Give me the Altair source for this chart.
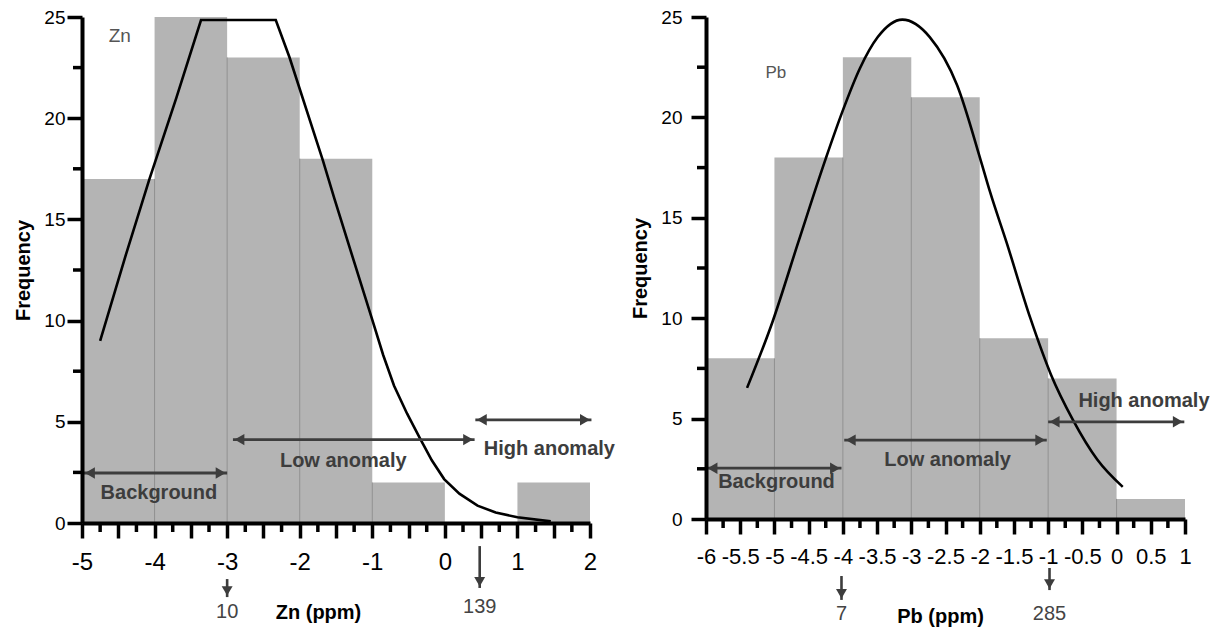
import altair as alt
import pandas as pd

FONT = "Liberation Sans, Arial, sans-serif"
NARROW = "Liberation Sans Narrow, Arial Narrow, Liberation Sans, sans-serif"
BAR = "#b4b4b4"
SEP = "#8e8e8e"
ANN = "#3d3d3d"

# ---------------- Zn data ----------------
zn_bin_start = [-5, -4, -3, -2, -1, 0, 1]
zn_bin_end = [-4, -3, -2, -1, 0, 1, 2]
zn_freq = [17, 25, 23, 18, 2, 0, 2]

zn_curve_x = [-4.75, -4.4, -4.07, -3.7, -3.36, -2.33, -2.14, -1.68, -1.52, -1.25,
              -0.99, -0.85, -0.70, -0.52, -0.35, -0.18, -0.01, 0.2, 0.45, 0.7, 1.0, 1.46]
zn_curve_y = [9.0, 13.2, 17.0, 21.0, 24.85, 24.85, 23.0, 17.9, 16.0, 12.9,
              9.92, 8.3, 6.78, 5.4, 4.23, 3.1, 2.17, 1.45, 0.86, 0.52, 0.28, 0.08]

zn_major_ticks = [-5, -4.5, -4, -3.5, -3, -2.5, -2, -1.5, -1, -0.5, 0, 0.5, 1, 1.5, 2]
zn_minor_ticks = [-4.75, -4.25, -3.75, -3.25, -2.75, -2.25, -1.75, -1.25, -0.75, -0.25,
                  0.25, 0.75, 1.25, 1.75]

zn_zone_text = ["Background", "Low anomaly", "High anomaly"]
zn_zone_x1 = [-4.98, -2.92, 0.42]
zn_zone_x2 = [-3.0, 0.41, 2.02]
zn_zone_y = [2.47, 4.12, 5.1]
zn_zone_text_x = [-3.94, -1.4, 1.44]
zn_zone_text_y = [1.5, 3.08, 3.66]

zn_cut_x = [-3.0, 0.48]
zn_cut_text = ["10", "139"]
zn_cut_top = [-2.77, -1.14]
zn_cut_tip = [-3.66, -3.21]
zn_cut_text_y = [-4.4, -4.15]

# ---------------- Pb data ----------------
pb_bin_start = [-6, -5, -4, -3, -2, -1, 0]
pb_bin_end = [-5, -4, -3, -2, -1, 0, 1]
pb_freq = [8, 18, 23, 21, 9, 7, 1]

pb_curve_x = [-5.40, -5.03, -4.65, -4.25, -4.0, -3.75, -3.49, -3.13, -2.73, -2.33,
              -1.98, -1.85, -1.61, -1.26, -0.96, -0.64, -0.28, 0.09]
pb_curve_y = [6.53, 9.8, 13.8, 17.95, 20.35, 22.45, 24.0, 24.87, 24.0, 21.6,
              17.8, 16.3, 13.8, 10.0, 7.2, 4.95, 2.95, 1.6]

pb_major_ticks = [-6, -5.5, -5, -4.5, -4, -3.5, -3, -2.5, -2, -1.5, -1, -0.5, 0, 0.5, 1]
pb_minor_ticks = [-5.75, -5.25, -4.75, -4.25, -3.75, -3.25, -2.75, -2.25, -1.75, -1.25,
                  -0.75, -0.25, 0.25, 0.75]

pb_zone_text = ["Background", "Low anomaly", "High anomaly"]
pb_zone_x1 = [-6.0, -3.98, -1.0]
pb_zone_x2 = [-4.02, -1.02, 0.99]
pb_zone_y = [2.53, 3.93, 4.84]
pb_zone_text_x = [-4.97, -2.47, 0.4]
pb_zone_text_y = [1.83, 2.92, 5.9]

pb_cut_x = [-4.02, -0.98]
pb_cut_text = ["7", "285"]
pb_cut_top = [-2.84, -2.44]
pb_cut_tip = [-4.03, -3.54]
pb_cut_text_y = [-4.73, -4.73]

y_major_ticks = [0, 5, 10, 15, 20, 25]
y_minor_ticks = [2.5, 7.5, 12.5, 17.5, 22.5]

MAJOR = 15
MINOR = 8
TW = 3.5
DW = 4


def panel(name, bin_start, bin_end, freq, cx, cy, interp, xdom, major_ticks, minor_ticks,
          half_labels, zone_text, zx1, zx2, zy, ztx, zty, cut_x, cut_text, cut_top, cut_tip,
          cut_ty, elem_x, elem_y, elem_size, width, height, xlab_size, xlab_pad, ylab_pad,
          xtitle_x, xtitle_y):
    xs = alt.Scale(domain=xdom, nice=False, zero=False)
    ys = alt.Scale(domain=[0, 25], nice=False, zero=False)

    if half_labels:
        lab_expr = "'' + datum.value"
    else:
        lab_expr = "abs(datum.value - round(datum.value)) < 0.001 ? ('' + datum.value) : ''"

    xaxis = alt.Axis(
        values=major_ticks, title=f"{name} (ppm)", titleFont=FONT, titleFontSize=20,
        titleFontWeight="bold", titleColor="black", titleX=xtitle_x, titleY=xtitle_y,
        titleBaseline="middle", titleAnchor="start", titleAlign="center",
        labelExpr=lab_expr,
        labelFont=NARROW, labelFontSize=xlab_size, labelColor="black",
        labelPadding=xlab_pad, labelOverlap=False, labelFlush=False, labelBound=False,
        tickSize=MAJOR, tickWidth=TW, tickColor="black",
        domainWidth=DW, domainColor="black", grid=False, zindex=2,
    )
    yaxis = alt.Axis(
        values=y_major_ticks, title="Frequency", titleFont=FONT, titleFontSize=20,
        titleFontWeight="bold", titleColor="black", titlePadding=10,
        labelFont=FONT, labelFontSize=19, labelColor="black", labelPadding=ylab_pad,
        labelOverlap=False, labelFlush=False,
        tickSize=MAJOR, tickWidth=TW, tickColor="black",
        domainWidth=DW, domainColor="black", grid=False, zindex=2,
    )

    def X(f):
        return alt.X(f, scale=xs, axis=xaxis, title=f"{name} (ppm)")

    def Y(f):
        return alt.Y(f, scale=ys, axis=yaxis, title="Frequency")

    bars_df = pd.DataFrame({"start": bin_start, "end": bin_end, "freq": freq})
    bars = alt.Chart(bars_df).mark_rect(color=BAR).encode(
        x=X("start:Q"), x2="end:Q", y=Y("freq:Q"), y2=alt.datum(0),
    )

    sep_x, sep_top = [], []
    for i in range(1, len(freq)):
        t = min(freq[i - 1], freq[i])
        if t > 0:
            sep_x.append(bin_start[i])
            sep_top.append(t)
    seps = alt.Chart(pd.DataFrame({"sx": sep_x, "st": sep_top})).mark_rule(
        color=SEP, strokeWidth=1
    ).encode(x=X("sx:Q"), y=Y("st:Q"), y2=alt.datum(0))

    # minor ticks on both axes
    xminor = alt.Chart(pd.DataFrame({"mx": minor_ticks})).mark_tick(
        orient="vertical", size=MINOR, thickness=TW, color="black", opacity=1,
        yOffset=MINOR / 2 + 1
    ).encode(x=X("mx:Q"), y=alt.Y(datum=0, scale=ys, axis=yaxis, title="Frequency"))
    yminor = alt.Chart(pd.DataFrame({"my": y_minor_ticks})).mark_tick(
        orient="horizontal", size=MINOR, thickness=TW, color="black", opacity=1,
        xOffset=-(MINOR / 2 + 1)
    ).encode(y=Y("my:Q"), x=alt.X(datum=xdom[0], scale=xs, axis=xaxis, title=f"{name} (ppm)"))

    curve = alt.Chart(pd.DataFrame({"cx": cx, "cy": cy})).mark_line(
        color="black", strokeWidth=2.6, interpolate=interp
    ).encode(x=X("cx:Q"), y=Y("cy:Q"), order="cx:Q")

    zdf = pd.DataFrame({"x1": zx1, "x2": zx2, "y": zy, "t": zone_text, "tx": ztx, "ty": zty})
    shafts = alt.Chart(zdf).mark_rule(color=ANN, strokeWidth=2.8).encode(
        x=X("x1:Q"), x2="x2:Q", y=Y("y:Q"),
    )
    head_l = alt.Chart(zdf).mark_point(
        shape="triangle-left", filled=True, size=130, color=ANN, opacity=1, xOffset=6.5
    ).encode(x=X("x1:Q"), y=Y("y:Q"))
    head_r = alt.Chart(zdf).mark_point(
        shape="triangle-right", filled=True, size=130, color=ANN, opacity=1, xOffset=-6.5
    ).encode(x=X("x2:Q"), y=Y("y:Q"))
    ztext = alt.Chart(zdf).mark_text(
        font=FONT, fontSize=20, fontWeight="bold", color=ANN, align="center", baseline="middle"
    ).encode(x=X("tx:Q"), y=Y("ty:Q"), text="t:N")

    cdf = pd.DataFrame({"x": cut_x, "t": cut_text, "top": cut_top, "tip": cut_tip, "ty": cut_ty})
    cshaft = alt.Chart(cdf).mark_rule(color=ANN, strokeWidth=2.6).encode(
        x=X("x:Q"), y=Y("top:Q"), y2="tip:Q",
    )
    chead = alt.Chart(cdf).mark_point(
        shape="triangle-down", filled=True, size=120, color=ANN, opacity=1, yOffset=-6.2
    ).encode(x=X("x:Q"), y=Y("tip:Q"))
    ctext = alt.Chart(cdf).mark_text(
        font=FONT, fontSize=20, color="#444444", align="center", baseline="middle"
    ).encode(x=X("x:Q"), y=Y("ty:Q"), text="t:N")

    edf = pd.DataFrame({"ex": [elem_x], "ey": [elem_y], "et": [name]})
    etext = alt.Chart(edf).mark_text(
        font=FONT, fontSize=elem_size, color="#555555", align="center", baseline="middle"
    ).encode(x=X("ex:Q"), y=Y("ey:Q"), text="et:N")

    return alt.layer(
        bars, seps, curve, shafts, head_l, head_r, ztext, cshaft, chead, ctext, etext,
        xminor, yminor
    ).properties(width=width, height=height)


left = panel("Zn", zn_bin_start, zn_bin_end, zn_freq, zn_curve_x, zn_curve_y, "linear",
             [-5, 2], zn_major_ticks, zn_minor_ticks, False,
             zn_zone_text, zn_zone_x1, zn_zone_x2, zn_zone_y, zn_zone_text_x, zn_zone_text_y,
             zn_cut_x, zn_cut_text, zn_cut_top, zn_cut_tip, zn_cut_text_y,
             -4.48, 24.08, 19, 508, 506, 24, 12, 2, 236, 89)

right = panel("Pb", pb_bin_start, pb_bin_end, pb_freq, pb_curve_x, pb_curve_y, "monotone",
              [-6, 1], pb_major_ticks, pb_minor_ticks, True,
              pb_zone_text, pb_zone_x1, pb_zone_x2, pb_zone_y, pb_zone_text_x, pb_zone_text_y,
              pb_cut_x, pb_cut_text, pb_cut_top, pb_cut_tip, pb_cut_text_y,
              -4.98, 22.2, 17, 479, 502, 22, 12, 9, 234, 97)

chart = alt.hconcat(left, right, spacing=116, bounds="flush").properties(
    padding={"left": 13, "top": 8, "right": 5, "bottom": 5}
).configure_view(stroke=None).configure_axis(
    domainWidth=DW, tickWidth=TW, domainColor="black", tickColor="black"
)

chart.save("out.html", embed_options={"renderer": "svg", "actions": False})
